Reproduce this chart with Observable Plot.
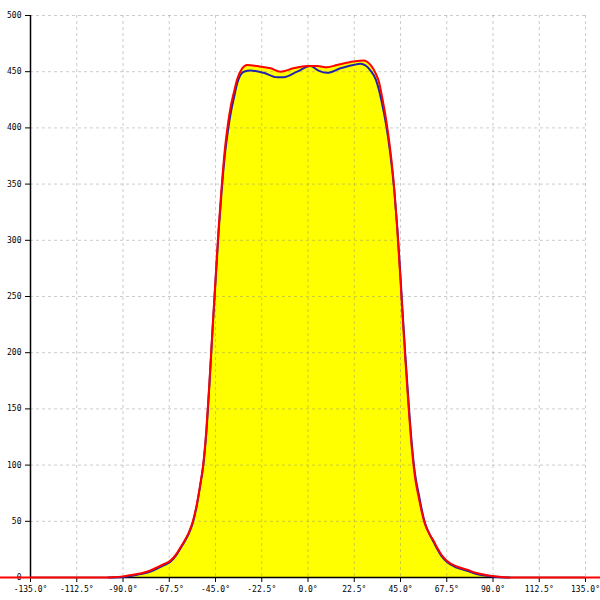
<!DOCTYPE html>
<html>
<head>
<meta charset="utf-8">
<script src="https://cdn.jsdelivr.net/npm/d3@7"></script>
<script src="https://cdn.jsdelivr.net/npm/@observablehq/plot@0.6"></script>
<style>
  html, body { margin: 0; padding: 0; background: white; }
</style>
</head>
<body>
<div id="chart"></div>
<script>
// X ticks (degrees) and Y ticks
const xTicks = [-135, -112.5, -90, -67.5, -45, -22.5, 0, 22.5, 45, 67.5, 90, 112.5, 135];
const yTicks = [0, 50, 100, 150, 200, 250, 300, 350, 400, 450, 500];

// Red series (upper envelope, also filled yellow)
const redAngle = [-180, -100, -95, -90, -85, -81.5, -77, -73.4, -70, -66.9, -64, -62, -60, -58, -56, -54, -52.5, -51, -49.5, -48, -46.5, -45, -43.5, -42, -40.5, -39, -37.5, -36, -34.5, -32, -29.6, -24.7, -18.2, -13.4, -7.1, -0.4, 4.5, 9.3, 14.2, 22.1, 27.0, 30.4, 32.8, 34.5, 36, 37.5, 39, 40.5, 42, 43.5, 45, 46, 47.5, 49, 50.5, 52, 54, 55.5, 57, 59, 61, 63, 65, 67.5, 72, 77.4, 82, 87.2, 92, 97, 180];
const redValue = [0, 0, 0.3, 1, 2.5, 3.5, 6, 9, 12, 15, 21, 27, 33, 40, 50, 66, 82, 100, 130, 172, 220, 265, 310, 348, 380, 403, 420, 432, 443, 453, 456, 455, 453, 450, 453, 455, 455, 454, 456, 459, 460, 456, 449, 441, 428, 413, 395, 373, 345, 308, 264, 233, 190, 150, 115, 90, 70, 57, 47, 39, 33, 26, 20, 15, 10, 7, 4, 2, 0.8, 0, 0];

// Blue series
const blueAngle = [-97, -90, -85, -81.5, -77, -73.4, -70, -66.9, -64, -62, -60, -58, -56, -54, -52.5, -51, -49.5, -48, -46.5, -45, -43.5, -42, -40.5, -39, -37.5, -36, -34.4, -31.2, -28, -21.6, -15, -11.9, -5.3, 1.2, 5.1, 9.3, 15.8, 22.1, 25.5, 30.4, 33, 34.5, 36, 37.5, 39, 40.5, 42, 43.5, 45, 46, 47.5, 49, 50.5, 52, 54, 55.5, 57, 59, 61, 63, 65, 67.5, 72, 77.4, 82, 87.2, 92, 98];
const blueValue = [0, 0.5, 1.8, 3, 5, 8, 11, 14, 20, 26, 32, 39, 49, 65, 81, 99, 128, 170, 218, 263, 307, 344, 375, 397, 414, 427, 440, 450, 451, 449, 445, 445, 450, 455, 451, 449, 453, 456, 457, 451, 443, 434, 422, 408, 391, 370, 344, 310, 268, 237, 194, 154, 119, 93, 73, 59, 48, 39, 32, 25, 19, 14, 9, 6, 3, 1.5, 0.5, 0];

const red = redAngle.map((a, i) => ({angle: a, value: redValue[i]}));
const blue = blueAngle.map((a, i) => ({angle: a, value: blueValue[i]}));
const redArea = red.filter(d => d.angle >= -100 && d.angle <= 100);

const chart = Plot.plot({
  width: 600,
  height: 600,
  marginLeft: 30,
  marginRight: 15,
  marginTop: 15,
  marginBottom: 23,
  style: {fontFamily: "DejaVu Sans Mono", fontSize: "8px", background: "white", color: "black"},
  x: {domain: [-135, 135], ticks: xTicks},
  y: {domain: [0, 500], ticks: yTicks},
  marks: [
    Plot.areaY(redArea, {x: "angle", y: "value", fill: "#ffff00", curve: "monotone-x"}),
    Plot.gridX(xTicks, {stroke: "#808080", strokeOpacity: 0.4, strokeDasharray: "3,3"}),
    Plot.gridY(yTicks, {stroke: "#808080", strokeOpacity: 0.4, strokeDasharray: "3,3"}),
    Plot.axisY(yTicks, {tickSize: 5, tickPadding: 4, tickFormat: d => String(d), label: null, fill: "black"}),
    Plot.axisX(xTicks, {tickSize: 5, tickPadding: 4, tickFormat: d => d.toFixed(1) + "°", label: null, fill: "black"}),
    Plot.ruleX([-135], {stroke: "black", strokeWidth: 1.5}),
    Plot.ruleY([0], {stroke: "black", strokeWidth: 1.5}),
    Plot.lineY(blue, {x: "angle", y: "value", stroke: "#2222aa", strokeWidth: 2, curve: "monotone-x"}),
    Plot.lineY(red, {x: "angle", y: "value", stroke: "#ff0000", strokeWidth: 2, curve: "monotone-x"})
  ]
});
document.getElementById("chart").appendChild(chart);
</script>
</body>
</html>
